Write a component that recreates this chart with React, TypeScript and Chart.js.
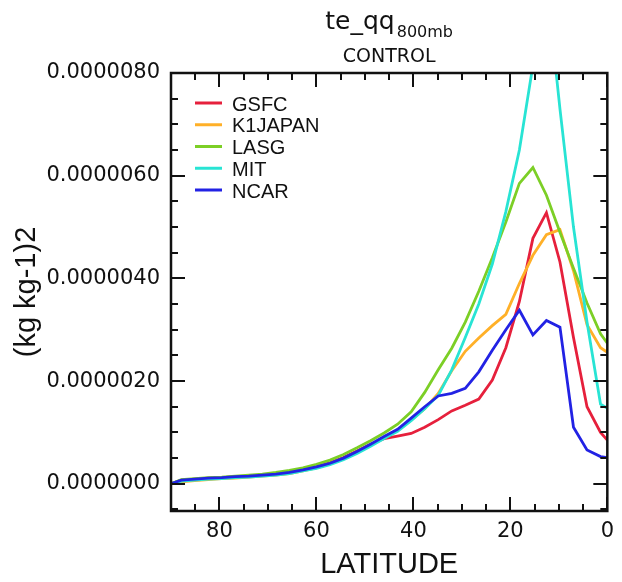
import React, { useEffect, useRef } from "react";
import { Chart, registerables } from "chart.js";

Chart.register(...registerables);

// Latitude (degrees N) of the model grid points
const LATITUDES = [
  90, 87.86, 85.1, 82.31, 79.53, 76.74, 73.95, 71.16, 68.37, 65.58, 62.79, 60.0,
  57.21, 54.42, 51.63, 48.84, 46.05, 43.26, 40.46, 37.67, 34.88, 32.09, 29.3,
  26.51, 23.72, 20.93, 18.14, 15.35, 12.56, 9.77, 6.98, 4.19, 1.4, 0,
];

// Values in units of 1e-6 (kg kg-1)2
const GSFC = [
  0.0, 0.07, 0.09, 0.11, 0.12, 0.14, 0.15, 0.17, 0.19, 0.22, 0.27, 0.33, 0.41,
  0.51, 0.64, 0.77, 0.88, 0.93, 0.98, 1.1, 1.25, 1.42, 1.53, 1.65, 2.02, 2.65,
  3.55, 4.78, 5.28, 4.32, 2.85, 1.5, 1.0, 0.85,
];
const K1JAPAN = [
  0.0, 0.04, 0.06, 0.08, 0.1, 0.11, 0.13, 0.15, 0.17, 0.2, 0.25, 0.31, 0.39,
  0.49, 0.61, 0.75, 0.9, 1.04, 1.24, 1.46, 1.76, 2.2, 2.58, 2.84, 3.08, 3.3,
  3.9, 4.45, 4.85, 4.95, 4.15, 3.1, 2.65, 2.56,
];
const LASG = [
  0.0, 0.08, 0.1, 0.12, 0.13, 0.15, 0.17, 0.19, 0.22, 0.26, 0.31, 0.38, 0.46,
  0.57, 0.7, 0.84, 0.99, 1.16, 1.4, 1.78, 2.22, 2.64, 3.15, 3.75, 4.4, 5.1,
  5.85, 6.16, 5.62, 4.9, 4.2, 3.52, 2.92, 2.74,
];
const MIT = [
  0.0, 0.05, 0.07, 0.09, 0.1, 0.12, 0.13, 0.15, 0.17, 0.2, 0.25, 0.3, 0.37,
  0.47, 0.59, 0.73, 0.88, 1.02, 1.23, 1.46, 1.72, 2.22, 2.85, 3.5, 4.28, 5.3,
  6.5, 8.15, 9.8, 7.3, 5.0, 3.15, 1.55, 1.47,
];
const NCAR = [
  0.0, 0.07, 0.09, 0.11, 0.12, 0.14, 0.15, 0.17, 0.19, 0.22, 0.27, 0.33, 0.4,
  0.5, 0.63, 0.77, 0.92, 1.06, 1.28, 1.5, 1.71, 1.76, 1.86, 2.18, 2.6, 3.0,
  3.38, 2.9, 3.18, 3.05, 1.1, 0.66, 0.53, 0.51,
];

const SERIES_NAMES = ["GSFC", "K1JAPAN", "LASG", "MIT", "NCAR"];
const SERIES_VALUES = [GSFC, K1JAPAN, LASG, MIT, NCAR];
const SERIES_COLORS = ["#e6203c", "#ffb028", "#7ccf26", "#28e4d4", "#2222e4"];

const X_LABEL_TICKS = [80, 60, 40, 20, 0];
const Y_LABEL_TICKS = [0, 2, 4, 6, 8];
const X_MINOR_STEP = 5;
const Y_MINOR_STEP = 0.5;
const X_MIN = 0;
const X_MAX = 90;
const Y_MIN = -0.53;
const Y_MAX = 8;
const UNIT = 1e-6;

const TITLE_MAIN = "te_qq";
const TITLE_SUB = "800mb";
const SUBTITLE = "CONTROL";
const X_TITLE = "LATITUDE";
const Y_TITLE = "(kg kg-1)2";

const decorPlugin = {
  id: "decor",
  afterDatasetsDraw(chart: any) {
    const { ctx, chartArea, scales } = chart;
    const { left, right, top, bottom } = chartArea;
    const xs = scales.x;
    const ys = scales.y;
    ctx.save();
    ctx.strokeStyle = "#111";
    ctx.lineWidth = 2;
    ctx.lineCap = "butt";
    const seg = (x1: number, y1: number, x2: number, y2: number) => {
      ctx.beginPath();
      ctx.moveTo(x1, y1);
      ctx.lineTo(x2, y2);
      ctx.stroke();
    };
    // x tick marks (inward, bottom and top)
    for (let v = X_MIN; v <= X_MAX + 1e-9; v += X_MINOR_STEP) {
      const px = Math.round(xs.getPixelForValue(v));
      const major = X_LABEL_TICKS.some((t) => Math.abs(t - v) < 1e-6);
      const len = major ? 14 : 7;
      seg(px, bottom, px, bottom - len);
      seg(px, top, px, top + len);
    }
    // y tick marks (inward, left and right)
    const startY = Math.ceil(Y_MIN / Y_MINOR_STEP) * Y_MINOR_STEP;
    for (let v = startY; v <= Y_MAX + 1e-9; v += Y_MINOR_STEP) {
      const py = Math.round(ys.getPixelForValue(v));
      const major = Y_LABEL_TICKS.some((t) => Math.abs(t - v) < 1e-6);
      const len = major ? 14 : 7;
      seg(left, py, left + len, py);
      seg(right, py, right - len, py);
    }
    ctx.lineWidth = 2.5;
    ctx.strokeRect(left, top, right - left, bottom - top);

    // legend
    const lx = left + 24;
    let ly = top + 30;
    ctx.font = '20px "Liberation Sans", Arial, sans-serif';
    ctx.textBaseline = "alphabetic";
    ctx.textAlign = "left";
    SERIES_NAMES.forEach((name, i) => {
      ctx.strokeStyle = SERIES_COLORS[i];
      ctx.lineWidth = 3;
      seg(lx, ly, lx + 27, ly);
      ctx.fillStyle = "#111";
      ctx.fillText(name, lx + 37, ly + 7.5);
      ly += 21.75;
    });

    // titles
    const cx = (left + right) / 2;
    ctx.fillStyle = "#111";
    ctx.font = '25px "DejaVu Sans", sans-serif';
    const wMain = ctx.measureText(TITLE_MAIN).width;
    ctx.font = '16px "DejaVu Sans", sans-serif';
    const wSub = ctx.measureText(TITLE_SUB).width;
    const startX = cx - (wMain + 2 + wSub) / 2;
    ctx.textAlign = "left";
    ctx.font = '25px "DejaVu Sans", sans-serif';
    ctx.fillText(TITLE_MAIN, startX, 29);
    ctx.font = '16px "DejaVu Sans", sans-serif';
    ctx.fillText(TITLE_SUB, startX + wMain + 2, 37);
    ctx.textAlign = "center";
    ctx.font = '19px "DejaVu Sans", sans-serif';
    ctx.fillText(SUBTITLE, cx, 62);

    // axis titles
    ctx.font = '29px "Liberation Sans", Arial, sans-serif';
    ctx.fillText(X_TITLE, cx, 573);
    ctx.save();
    ctx.translate(35, (top + bottom) / 2);
    ctx.rotate(-Math.PI / 2);
    ctx.fillText(Y_TITLE, 0, 0);
    ctx.restore();
    ctx.restore();
  },
};

export default function App() {
  const canvasRef = useRef<HTMLCanvasElement | null>(null);

  useEffect(() => {
    const canvas = canvasRef.current;
    if (!canvas) return;
    const datasets = SERIES_NAMES.map((name, i) => ({
      label: name,
      data: LATITUDES.map((lat, j) => ({ x: lat, y: SERIES_VALUES[i][j] })),
      borderColor: SERIES_COLORS[i],
      backgroundColor: SERIES_COLORS[i],
      borderWidth: 2.8,
      pointRadius: 0,
      tension: 0,
      fill: false,
      order: SERIES_NAMES.length - 1 - i,
    }));
    const tickFont = { family: '"DejaVu Sans", sans-serif', size: 21 };
    const chart = new Chart(canvas, {
      type: "line",
      data: { datasets },
      options: {
        responsive: false,
        animation: false,
        devicePixelRatio: 1,
        layout: { padding: { left: 0, top: 73, right: 14, bottom: 0 } },
        plugins: {
          legend: { display: false },
          title: { display: false },
          tooltip: { enabled: false },
        },
        scales: {
          x: {
            type: "linear",
            min: X_MIN,
            max: X_MAX,
            reverse: true,
            grid: { display: false, drawTicks: false },
            border: { display: false },
            afterBuildTicks: (axis: any) => {
              axis.ticks = X_LABEL_TICKS.map((v) => ({ value: v }));
            },
            afterFit: (axis: any) => {
              axis.height = 71;
            },
            ticks: {
              autoSkip: false,
              maxRotation: 0,
              padding: 8,
              color: "#111",
              font: tickFont,
              callback: (v: any) => String(v),
            },
          },
          y: {
            type: "linear",
            min: Y_MIN,
            max: Y_MAX,
            grid: { display: false, drawTicks: false },
            border: { display: false },
            afterBuildTicks: (axis: any) => {
              axis.ticks = Y_LABEL_TICKS.map((v) => ({ value: v }));
            },
            afterFit: (axis: any) => {
              axis.width = 171;
            },
            ticks: {
              autoSkip: false,
              padding: 11,
              color: "#111",
              font: tickFont,
              callback: (v: any) => (Number(v) * UNIT).toFixed(7),
            },
          },
        },
      } as any,
      plugins: [decorPlugin],
    });
    return () => chart.destroy();
  }, []);

  return (
    <canvas
      ref={canvasRef}
      width={622}
      height={582}
      style={{ position: "absolute", left: 0, top: 0, width: 622, height: 582 }}
    />
  );
}
